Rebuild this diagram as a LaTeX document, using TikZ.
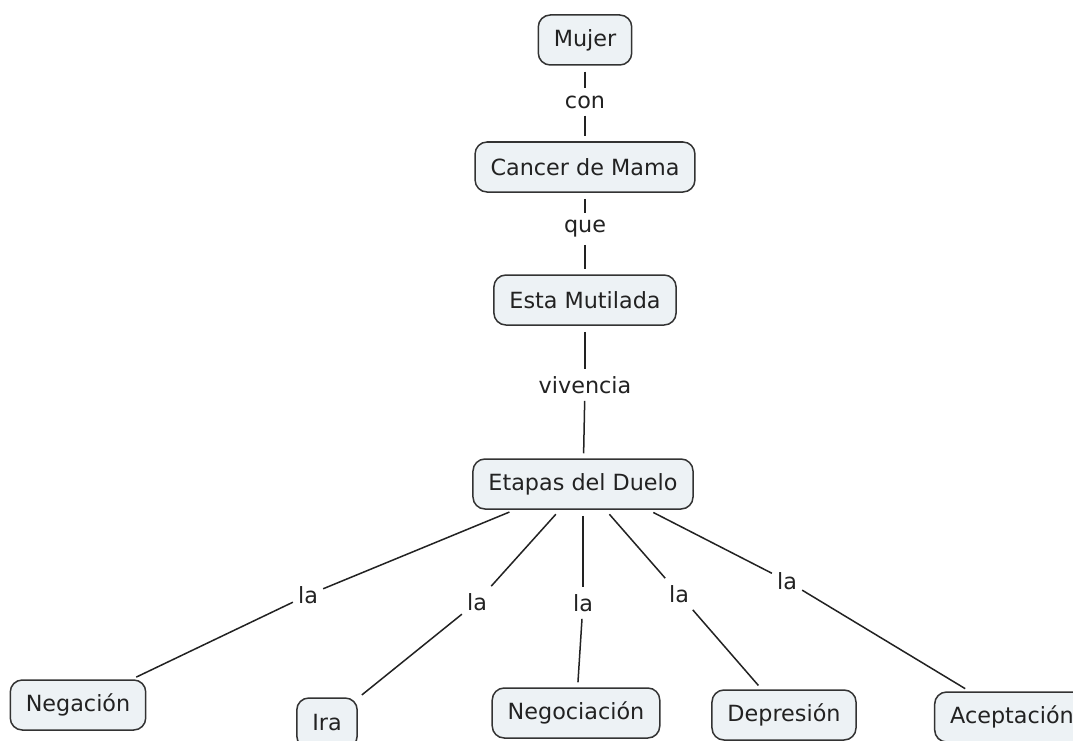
\documentclass[tikz,border=0pt]{standalone}
\usepackage{fontspec}
\setmainfont{DejaVu Sans}
\definecolor{boxfill}{HTML}{EDF2F5}
\definecolor{boxline}{HTML}{333333}
\definecolor{txt}{HTML}{222222}
\begin{document}
\begin{tikzpicture}[x=1pt,y=-1pt,
  concept/.style={draw=boxline, fill=boxfill, line width=1.5pt, rounded corners=12pt,
    minimum height=50pt, inner xsep=15.5pt, text=txt,
    font=\fontsize{22.3}{27}\selectfont},
  linkword/.style={inner xsep=5pt, inner ysep=7pt, text=txt, font=\fontsize{22.3}{27}\selectfont},
  conn/.style={draw=txt, line width=1.5pt},
  fromc/.style={conn, shorten <=6pt},
  toc/.style={conn, shorten >=5pt}]
\path[use as bounding box, clip] (0,0) rectangle (1073,741);
\fill[white] (0,0) rectangle (1073,741);

\node[concept] (mujer) at (585,40) {Mujer};
\node[concept] (cancer) at (585,167) {Cancer de Mama};
\node[concept] (esta) at (585,300) {Esta Mutilada};
\node[concept] (etapas) at (583,484) {Etapas del Duelo};
\node[concept] (neg) at (78,705) {Negación};
\node[concept] (ira) at (327,723) {Ira};
\node[concept] (nego) at (576,713) {Negociación};
\node[concept] (dep) at (784,715) {Depresión};
\node[concept] (acep) at (1012,717) {Aceptación};

\node[linkword] (l1) at (585,102) {con};
\node[linkword] (l2) at (585,229) {que};
\node[linkword] (l3) at (585,385) {vivencia};
\node[linkword] (l4) at (308,595) {la};
\node[linkword] (l5) at (477,602) {la};
\node[linkword] (l6) at (583,603) {la};
\node[linkword] (l7) at (679,594) {la};
\node[linkword] (l8) at (787,581) {la};

\draw[fromc] (mujer) -- (l1); \draw[toc] (l1) -- (cancer);
\draw[fromc] (cancer) -- (l2); \draw[toc] (l2) -- (esta);
\draw[fromc] (esta) -- (l3); \draw[toc] (l3) -- (etapas);
\path (etapas.south) ++(-68,0) coordinate (e1);
\path (etapas.south) ++(65,0) coordinate (e2);
\draw[fromc] (e1) -- (l4); \draw[toc] (l4) -- (neg);
\draw[fromc] (etapas) -- (l5); \draw[toc] (l5) -- (ira);
\draw[fromc] (etapas) -- (l6); \draw[toc] (l6) -- (nego);
\draw[fromc] (etapas) -- (l7); \draw[toc] (l7) -- (dep);
\draw[fromc] (e2) -- (l8); \draw[toc] (l8) -- (acep);
\end{tikzpicture}
\end{document}
